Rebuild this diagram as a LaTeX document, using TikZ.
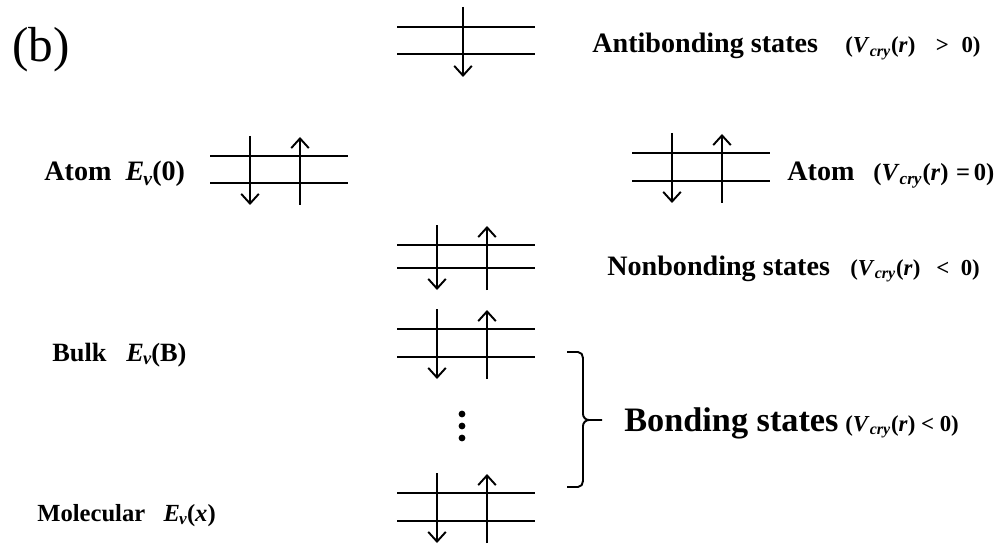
\documentclass[tikz,border=0pt]{standalone}
\usepackage{fontspec}
\setmainfont{Liberation Serif}
\usetikzlibrary{arrows.meta}

\newcommand{\Vcry}{\textit{V}\textsubscript{\textit{cry}}(\textit{r})}
\newcommand{\Evof}[1]{\textit{E}\textsubscript{\kern-0.5pt\textit{v}}\kern-0.5pt(#1)}

\begin{document}
\begin{tikzpicture}[x=0.02cm, y=-0.02cm,
  level/.style={line width=1.1pt},
  spin/.style={line width=1.1pt, -{Straight Barb[length=5.5pt,width=10pt,line width=1.1pt]}},
  lab/.style={font=\fontsize{16}{18}\selectfont\bfseries, anchor=base west, inner sep=0pt},
  cond/.style={font=\fontsize{13}{15}\selectfont\bfseries, anchor=base west, inner sep=0pt}]
\useasboundingbox (0,0) rectangle (1000,547);

\node[font=\fontsize{28}{30}\selectfont, anchor=base west, inner sep=0pt] (panel) at (12,62) {(b)};

% energy levels: name / centre x / upper line / lower line
\foreach \n/\cx/\ya/\yb in {atomL/279/156/183, atomR/701/153/181,
    non/466/245/268, bulk/466/329/357, mol/466/493/521} {
  \draw[level] (\cx-69,\ya) -- (\cx+69,\ya);
  \draw[level] (\cx-69,\yb) -- (\cx+69,\yb);
  \coordinate (\n-dn1) at (\cx-29,\ya-20);
  \coordinate (\n-dn2) at (\cx-29,\yb+22);
  \coordinate (\n-up1) at (\cx+21,\yb+22);
  \coordinate (\n-up2) at (\cx+21,\ya-19);
  \draw[spin] (\n-dn1) -- (\n-dn2);
  \draw[spin] (\n-up1) -- (\n-up2);
}
% antibonding level, one spin only
\draw[level] (397,27) -- (535,27);
\draw[level] (397,54) -- (535,54);
\coordinate (anti-dn1) at (463,7);
\coordinate (anti-dn2) at (463,77);
\draw[spin] (anti-dn1) -- (anti-dn2);

% dots between bulk and molecular
\foreach \y in {414,426,438}
  \fill (462,\y) circle (3.4);

% brace
\draw[line width=1.1pt] (567,352) -- (578,352) to[out=0,in=90] (583,358) -- (583,414)
  to[out=-90,in=180] (589,420) -- (602,420);
\draw[line width=1.1pt] (567,487) -- (578,487) to[out=0,in=-90] (583,481) -- (583,426)
  to[out=90,in=180] (589,420);

% labels
\node[lab] (antiT) at (592,53) {Antibonding states};
\node[cond] (antiV) at (845,53) {(\Vcry\hspace{0.9em}>\hspace{0.55em}0)};
\node[lab] (atomLT) at (44,181) {Atom~~\Evof{0}};
\node[lab] (atomRT) at (787,181) {Atom};
\node[cond, font=\fontsize{14}{16}\selectfont\bfseries] (atomRV) at (873,181) {(\Vcry\hspace{0.3em}=\hspace{0.15em}0)};
\node[lab] (nonT) at (607,275) {Nonbonding states};
\node[cond] (nonV) at (850,275) {(\Vcry\hspace{0.7em}<\hspace{0.5em}0)};
\node[lab, font=\fontsize{15}{17}\selectfont\bfseries] (bulkT) at (52,361) {Bulk~~~\Evof{B}};
\node[lab, font=\fontsize{14}{16}\selectfont\bfseries] (molT) at (37,521) {Molecular~~~\Evof{\textit{x}}};
\node[lab, font=\fontsize{19.5}{22}\selectfont\bfseries] (bondT) at (624,431) {Bonding states};
\node[cond] (bondV) at (845,431) {(\Vcry~< 0)};
\end{tikzpicture}
\end{document}
